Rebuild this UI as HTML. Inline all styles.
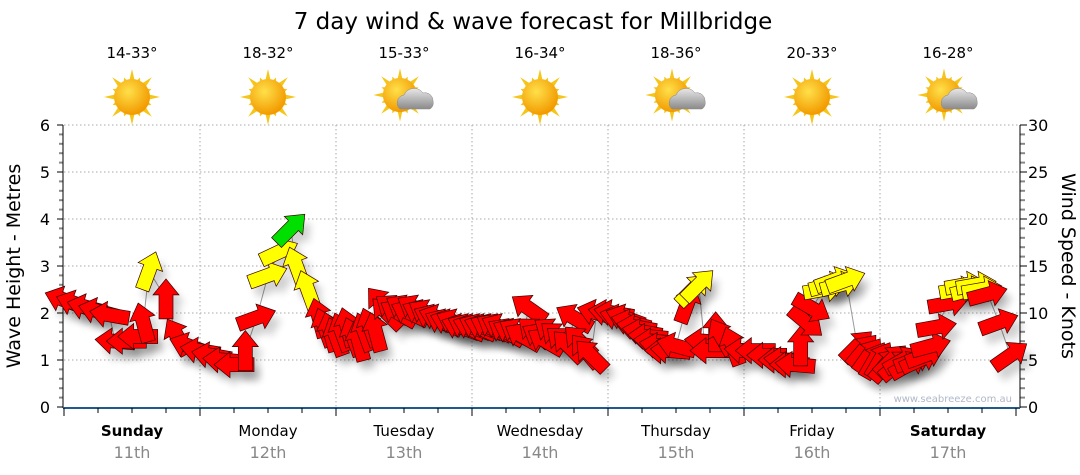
<!DOCTYPE html>
<html><head><meta charset="utf-8"><style>
body{margin:0;background:#fff;}
svg{display:block;font-family:"DejaVu Sans","Liberation Sans",sans-serif;}
</style></head><body>
<svg id="chart" width="1080" height="475" viewBox="0 0 1080 475">
<defs>
<filter id="sh" x="-50%" y="-50%" width="200%" height="200%"><feGaussianBlur stdDeviation="4"/></filter>
<radialGradient id="sun" cx="40%" cy="35%" r="65%"><stop offset="0" stop-color="#ffe04a"/><stop offset="1" stop-color="#f29a00"/></radialGradient>
<linearGradient id="cloud" x1="0" y1="0" x2="0" y2="1"><stop offset="0" stop-color="#e8e8e8"/><stop offset="1" stop-color="#8a8a8a"/></linearGradient>
</defs>
<text x="533" y="29" font-size="23" text-anchor="middle" fill="#000">7 day wind &amp; wave forecast for Millbridge</text>
<g id="grid"></g><g id="axes"></g><g id="days"></g>
<text x="1012" y="402" font-size="10" text-anchor="end" fill="#b0b8c8">www.seabreeze.com.au</text>
<g id="marks"></g>
<text transform="translate(20,266) rotate(-90)" font-size="19" text-anchor="middle">Wave Height - Metres</text>
<text transform="translate(1062,266) rotate(90)" font-size="19" text-anchor="middle">Wind Speed - Knots</text>
</svg>
<script>
const dayNames=["Sunday","Monday","Tuesday","Wednesday","Thursday","Friday","Saturday"];
const dayDates=["11th","12th","13th","14th","15th","16th","17th"];
const tempRanges=["14-33°","18-32°","15-33°","16-34°","18-36°","20-33°","16-28°"];
const weatherIcons=["sun","sun","cloud","sun","cloud","sun","cloud"];
const leftTicks=[0,1,2,3,4,5,6];
const rightTicks=[0,5,10,15,20,25,30];
const hours=[
0,2,4,6,8,9,11,13,14,15,18,20,22,
24,26,28,30,32,34,36,38,40,41,43,45,46,47,
48,49,50,51,52,53,54,55,56,57,58,59,60,61,62,63,64,65,66,67,68,69,70,71,
72,73,74,75,76,77,78,79,80,81,82,83,84,85,86,87,88,89,90,91,92,93,
94,96,97,98,99,100,101,102,103,104,105,106,107,108,110,111,112,113,114,115,116,118,
120,122,124,126,127,128,129,130,131,132,134,135,136,137,138,140,141,142,143,
144,145,146,147,148,149,150,151,152,153,154,156,158,159,160,161,162,163,165,167];
const speeds=[
11.4,11,10.6,10.2,9.8,7,7,7.5,9,14.5,11.5,7.5,6.5,
6,5.5,5,4.5,6,9.5,14,16.5,19,15,12.5,9.5,8.5,8,
7.5,8,8.5,7.5,7,8,8.5,8,11,10,10.5,10,10.5,10,10.5,10,10,9.5,9.5,9,9,9,8.5,8.5,
8.5,8.5,8.5,8.5,8.5,8.5,8,8,8,7.5,10.5,8,7.5,7,8,7.5,7,6.5,9.5,7,6,5.5,
10,10,10,9.5,9.5,9,8.5,8,7.5,7,6.5,6,6,6.5,11,12.5,13,7,6,8,7.5,6.5,
6,6,5.5,5,5,4.5,4.5,6.5,9,10.5,12.5,13,13.5,13,13.5,6.5,6,5.5,5,
5,4.5,5,4.5,5,4.5,5,5,5.5,6.5,8.5,11,12.5,13,12.5,13,12.5,12,9,5.5];
const directions=[
290,290,285,285,280,275,270,270,345,20,0,330,290,
280,280,275,270,0,70,70,65,45,340,340,345,340,345,
340,340,345,340,345,340,340,345,320,315,305,300,300,295,300,295,300,295,290,295,290,295,290,295,
290,295,290,295,300,295,300,295,300,300,305,310,300,300,305,310,310,315,300,315,320,315,
285,280,280,285,290,285,280,280,275,275,280,270,275,285,20,45,45,275,270,0,330,340,
275,270,270,270,275,270,275,0,130,120,80,75,70,75,70,45,40,35,30,
30,40,45,50,60,60,70,65,70,75,80,80,80,80,75,80,80,75,70,55];
const x0=64,pxH=136/24,yBase=407,pxKt=9.4,pxM=47;
const X=h=>x0+h*pxH, YK=k=>yBase-k*pxKt, YM=m=>yBase-m*pxM;
const NS="http://www.w3.org/2000/svg";
function el(tag,attrs,parent,txt){const e=document.createElementNS(NS,tag);for(const k in attrs)e.setAttribute(k,attrs[k]);if(txt!==undefined)e.textContent=txt;parent.appendChild(e);return e;}
const grid=document.getElementById('grid'),axes=document.getElementById('axes'),days=document.getElementById('days'),marks=document.getElementById('marks');
leftTicks.forEach(v=>{if(v>0){const g=el('line',{x1:64,x2:1020,y1:YM(v),y2:YM(v),stroke:'#aaa','stroke-dasharray':'1.5,2.5'},grid);}
const t=el('text',{x:50,y:YM(v)+6,'font-size':16,'text-anchor':'end'},axes,String(v));});
rightTicks.forEach(v=>{const t=el('text',{x:1028,y:YK(v)+6,'font-size':16},axes,String(v));});
for(let i=0;i<=30;i++){el('line',{x1:1020,x2:i%5==0?1027:1025,y1:YK(i),y2:YK(i),stroke:i%5==0?'#000':'#888','stroke-width':i%5==0?1:2},axes);}
for(let i=0;i<=30;i++){el('line',{x1:i%5==0?57:59,x2:63,y1:YM(i/5),y2:YM(i/5),stroke:i%5==0?'#000':'#888','stroke-width':i%5==0?1:2},axes);}
el('line',{x1:63,x2:63,y1:125,y2:408,stroke:'#000'},axes);
el('line',{x1:1020,x2:1020,y1:125,y2:408,stroke:'#000'},axes);
el('line',{x1:63,x2:1020,y1:408,y2:408,stroke:'#1f5a8a','stroke-width':2},axes);
for(let h=0;h<=168;h+=6){el('line',{x1:X(h),x2:X(h),y1:408,y2:h%24==0?416:413,stroke:'#000'},axes);}
dayNames.forEach((d,i)=>{const cx=X(i*24+12);
if(i>0){const g=el('line',{x1:X(i*24),x2:X(i*24),y1:125,y2:407,stroke:'#aaa','stroke-dasharray':'1.5,2.5'},grid);}
const bold=(i==0||i==6);
const t1=el('text',{x:cx,y:436,'font-size':15,'text-anchor':'middle','font-weight':bold?'bold':'normal'},days,d);
const t2=el('text',{x:cx,y:458,'font-size':16,'text-anchor':'middle',fill:'#888'},days,dayDates[i]);
const t3=el('text',{x:cx,y:58,'font-size':15,'text-anchor':'middle'},days,tempRanges[i]);
const g=el('g',{transform:`translate(${cx},97)`},days);
let s='';for(let k=0;k<16;k++){const a=k*Math.PI/8,r=k%2?21:28;s+=`M${(15*Math.cos(a-0.2)).toFixed(1)},${(15*Math.sin(a-0.2)).toFixed(1)}L${(r*Math.cos(a)).toFixed(1)},${(r*Math.sin(a)).toFixed(1)}L${(15*Math.cos(a+0.2)).toFixed(1)},${(15*Math.sin(a+0.2)).toFixed(1)}Z`;}
if(weatherIcons[i]=='sun'){el('path',{d:s,fill:'#f5c518'},g);el('circle',{r:18,fill:'url(#sun)'},g);}
else{el('g',{transform:'translate(-4,-2) scale(0.95)'},g).innerHTML=`<path d="${s}" fill="#f5c518"/><circle r="18" fill="url(#sun)"/>`;
el('path',{d:'M-4,12 a8,8 0 0 1 4,-14 a11,11 0 0 1 19,-2 a8,8 0 0 1 10,8 a7,7 0 0 1 -3,8 Z',fill:'url(#cloud)',stroke:'#888','stroke-width':0.5},g);}
});
let pts=hours.map((h,i)=>X(h)+','+YK(speeds[i])).join(' ');
const pl=el('polyline',{points:pts,fill:'none',stroke:'#999','stroke-width':1},marks);

const ARW='M-20,-7 L4,-7 L4,-13 L20,0 L4,13 L4,7 L-20,7 Z';
hours.forEach((h,i)=>{el('path',{d:ARW,fill:'#000',opacity:0.18,filter:'url(#sh)',transform:`translate(${X(h)+6},${YK(speeds[i])+9}) rotate(${directions[i]-90})`},marks);});
hours.forEach((h,i)=>{const k=speeds[i];const col=k>=18?'#00e000':(k>=12.5?'#ffff00':'#ff0000');
const a=el('path',{d:ARW,fill:col,stroke:'#3a0000','stroke-width':0.7,transform:`translate(${X(h)},${YK(k)}) rotate(${directions[i]-90})`},marks);

});
</script>
</body></html>
